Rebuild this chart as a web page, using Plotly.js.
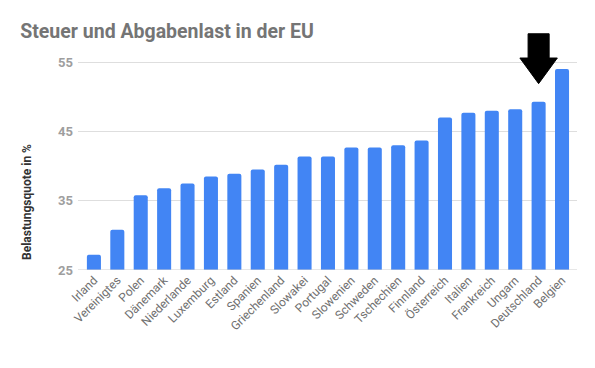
<!DOCTYPE html>
<html><head><meta charset="utf-8">
<script src="https://cdn.plot.ly/plotly-3.0.1.min.js"></script>
<style>html,body{margin:0;padding:0;background:#fff}#c{width:595px;height:368px}</style>
</head><body><div id="c"></div>
<script>
const countries = ["Irland","Vereinigtes","Polen","Dänemark","Niederlande","Luxemburg","Estland","Spanien","Griechenland","Slowakei","Portugal","Slowenien","Schweden","Tschechien","Finnland","Österreich","Italien","Frankreich","Ungarn","Deutschland","Belgien"];
const quote = [27.2,30.8,35.8,36.8,37.5,38.5,38.9,39.5,40.2,41.4,41.4,42.7,42.7,43.0,43.7,47.0,47.7,48.0,48.2,49.3,54.0];
const yTicks = [25,35,45,55];
const highlight = "Deutschland";

const idx = countries.map((_, i) => i);
const hi = countries.indexOf(highlight);
const hv = quote[hi];
const arrowPath = `M ${hi-0.45},${hv+9.8} L ${hi+0.45},${hv+9.8} L ${hi+0.45},${hv+6.3} L ${hi+0.8},${hv+6.3} L ${hi},${hv+2.6} L ${hi-0.8},${hv+6.3} L ${hi-0.45},${hv+6.3} Z`;

const trace = {
  type: 'bar', x: idx, y: quote,
  marker: {color: '#4285F4', cornerradius: 2},
  width: 0.6, hoverinfo: 'none'
};
const layout = {
  width: 595, height: 368,
  margin: {l: 78, r: 18, t: 31, b: 98},
  paper_bgcolor: '#fff', plot_bgcolor: '#fff',
  showlegend: false,
  title: {text: 'Steuer und Abgabenlast in der EU', x: 0.034, xanchor: 'left', y: 0.916, yanchor: 'middle',
          font: {family: 'Roboto', size: 19.5, color: '#757575', weight: 700}},
  xaxis: {range: [-0.68, 20.64], tickvals: idx, ticktext: countries, tickangle: -45,
          tickfont: {family: 'Roboto', size: 12, color: '#707070'}, showgrid: false, zeroline: false,
          showline: false, ticks: '', fixedrange: true},
  yaxis: {range: [25, 59.5], tickvals: yTicks, ticktext: yTicks.map(String), showgrid: true, gridcolor: '#dedede', gridwidth: 1,
          zeroline: false, showline: false, ticks: '', ticklabelstandoff: 4,
          tickfont: {family: 'Roboto', size: 13, color: '#9e9e9e', weight: 700}},
  shapes: [
    {type: 'line', xref: 'paper', yref: 'y', x0: 0, x1: 1, y0: 25, y1: 25, line: {color: '#cfcfcf', width: 1.2}},
    {type: 'path', xref: 'x', yref: 'y', path: arrowPath, fillcolor: '#000', line: {color: '#000', width: 1}}
  ],
  annotations: [
    {text: 'Belastungsquote in %', xref: 'paper', yref: 'paper', x: -0.102, y: 0.285, textangle: -90,
     showarrow: false, xanchor: 'center', yanchor: 'middle',
     font: {family: 'Roboto', size: 12, color: '#333', weight: 700}}
  ]
};
Plotly.newPlot('c', [trace], layout, {staticPlot: true, displayModeBar: false});
</script></body></html>
